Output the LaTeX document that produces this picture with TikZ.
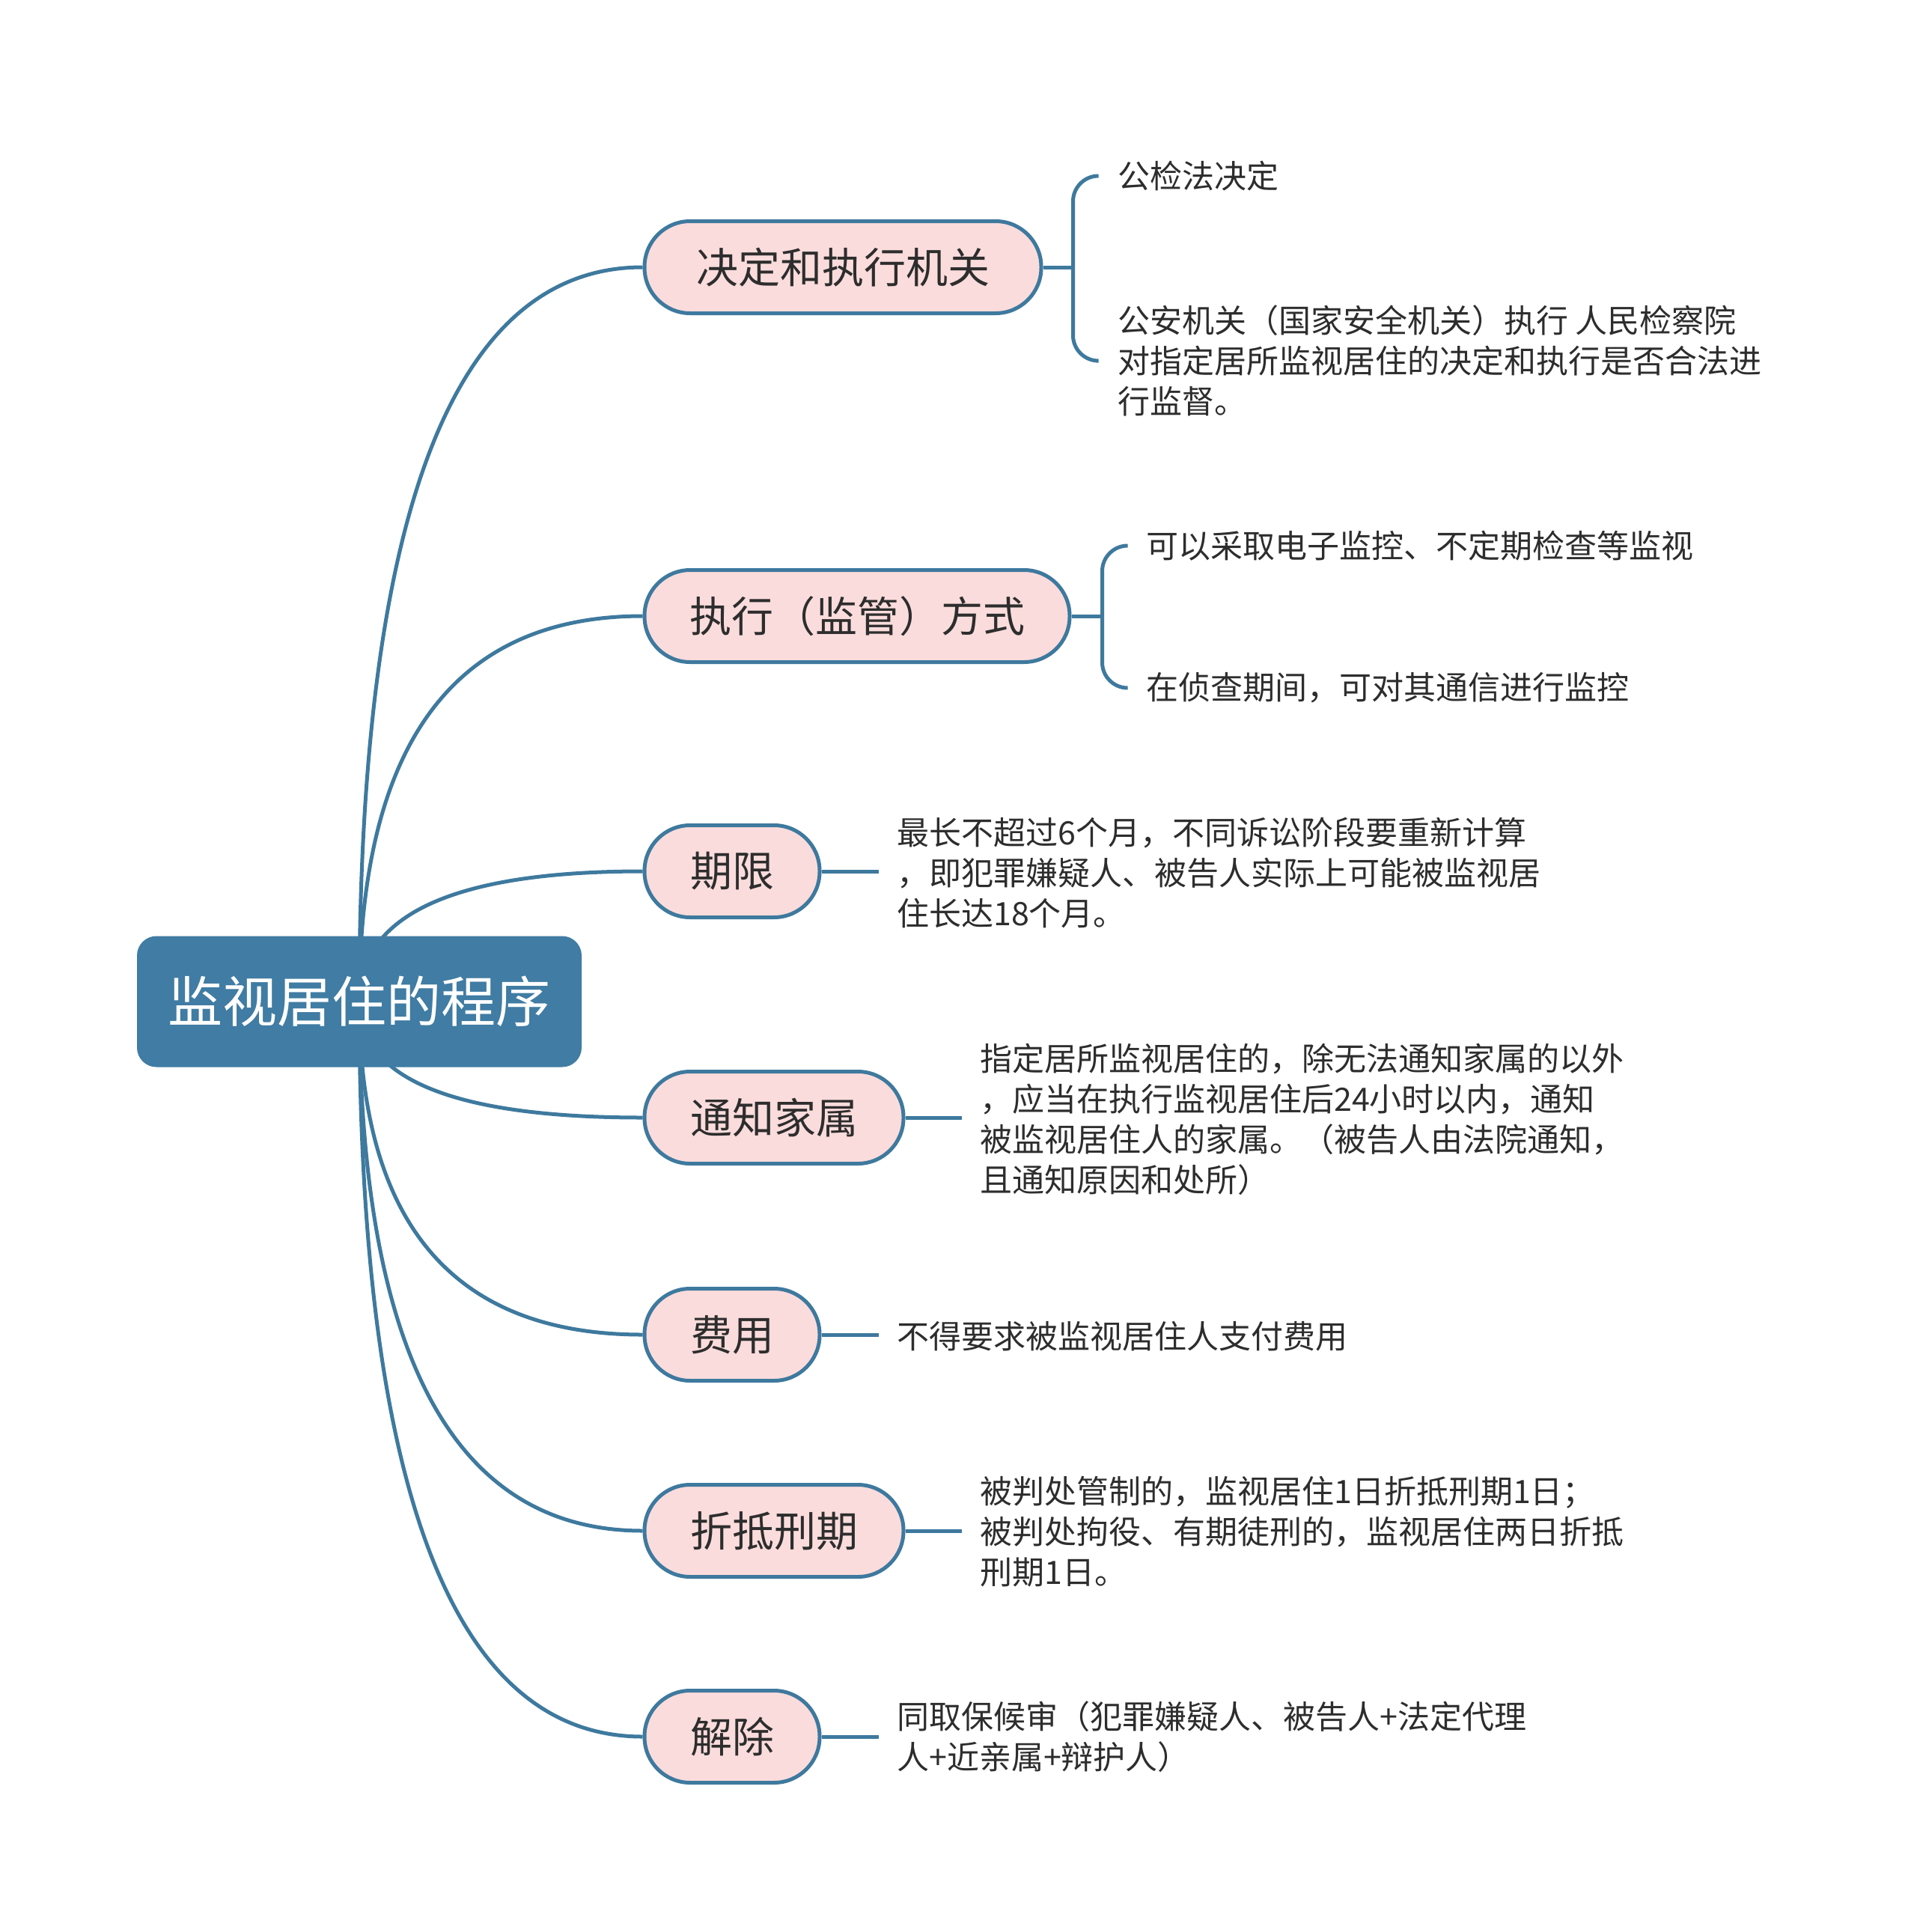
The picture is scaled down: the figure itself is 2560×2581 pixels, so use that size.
\documentclass[tikz,border=0pt]{standalone}
\usepackage{fontspec}
\setmainfont{Noto Sans CJK SC}
\usetikzlibrary{calc,backgrounds}
\definecolor{rootblue}{RGB}{64,124,163}
\definecolor{lineblue}{RGB}{62,121,158}
\definecolor{pinkfill}{RGB}{251,220,220}
\definecolor{txt}{RGB}{45,45,45}
\begin{document}
\begin{tikzpicture}[x=1pt,y=-1pt,
  rootbox/.style={fill=rootblue, rounded corners=26pt, minimum width=594pt, minimum height=175pt,
    text=white, font=\fontsize{73}{80}\selectfont, inner sep=0pt},
  pill/.style={draw=lineblue, line width=5pt, fill=pinkfill, rounded corners=61pt,
    minimum height=123pt, text=txt, font=\fontsize{56}{64}\selectfont, anchor=west, inner sep=0pt},
  leaf/.style={anchor=west, inner sep=0pt, align=left, text=txt, font=\fontsize{43}{54}\selectfont},
  conn/.style={draw=lineblue, line width=5pt},
  hook/.style={conn, rounded corners=34pt}]
\useasboundingbox (0,0) rectangle (2560,2581);

% root
\node[rootbox] (root) at (480,1338) {监视居住的程序};

% branches
\node[pill, minimum width=530pt] (b1) at (858.5,357)  {决定和执行机关};
\node[pill, minimum width=568pt] (b2) at (858.5,823)  {执行（监管）方式};
\node[pill, minimum width=234pt] (b3) at (858.5,1164) {期限};
\node[pill, minimum width=346pt] (b4) at (858.5,1493) {通知家属};
\node[pill, minimum width=234pt] (b5) at (858.5,1783) {费用};
\node[pill, minimum width=346pt] (b6) at (858.5,2045) {折抵刑期};
\node[pill, minimum width=234pt] (b7) at (858.5,2320) {解除};

% leaves
\node[leaf] (l1a) at (1493,235) {公检法决定};
\node[leaf] (l1b) at (1493,482) {公安机关（国家安全机关）执行 人民检察院\\对指定居所监视居住的决定和执行是否合法进\\行监督。};
\node[leaf] (l2a) at (1531,729) {可以采取电子监控、不定期检查等监视};
\node[leaf] (l2b) at (1531,919) {在侦查期间，可对其通信进行监控};
\node[leaf] (l3) at (1198,1166) {最长不超过6个月，不同诉讼阶段要重新计算\\，即犯罪嫌疑人、被告人实际上可能被监视居\\住长达18个月。};
\node[leaf] (l4) at (1309,1495) {指定居所监视居住的，除无法通知家属的以外\\，应当在执行监视居住后24小时以内，通知\\被监视居住人的家属。（被告人由法院通知，\\且通知原因和处所）};
\node[leaf] (l5) at (1198,1785) {不得要求被监视居住人支付费用};
\node[leaf] (l6) at (1309,2046) {被判处管制的，监视居住1日折抵刑期1日；\\被判处拘役、有期徒刑的，监视居住两日折抵\\刑期1日。};
\node[leaf] (l7) at (1198,2320) {同取保候审（犯罪嫌疑人、被告人+法定代理\\人+近亲属+辩护人）};

% brace junctions
\coordinate (k1) at ([xshift=40pt]b1.east);
\coordinate (k2) at ([xshift=41pt]b2.east);

% leaf connectors
\draw[conn] (b1.east) -- (k1);
\draw[hook] ([xshift=-28pt]l1a.west) -| (k1) |- ([xshift=-28pt]l1b.west);
\draw[conn] (b2.east) -- (k2);
\draw[hook] ([xshift=-25pt]l2a.west) -| (k2) |- ([xshift=-25pt]l2b.west);
\draw[conn] (b3.east) -- ([xshift=-24pt]l3.west |- b3.east);
\draw[conn] (b4.east) -- ([xshift=-24pt]l4.west |- b4.east);
\draw[conn] (b5.east) -- ([xshift=-24pt]l5.west |- b5.east);
\draw[conn] (b6.east) -- ([xshift=-24pt]l6.west |- b6.east);
\draw[conn] (b7.east) -- ([xshift=-24pt]l7.west |- b7.east);

\begin{pgfonlayer}{background}
  \fill[white] (0,0) rectangle (2560,2581);
  \foreach \b in {b1,b2,b3,b4,b5,b6,b7}{
    \draw[conn] (root.center) .. controls ($(root.center)!0.667!(root.center |- \b.west)$)
      and ($(\b.west)!0.667!(root.center |- \b.west)$) .. (\b.west);
  }
\end{pgfonlayer}
\end{tikzpicture}
\end{document}
